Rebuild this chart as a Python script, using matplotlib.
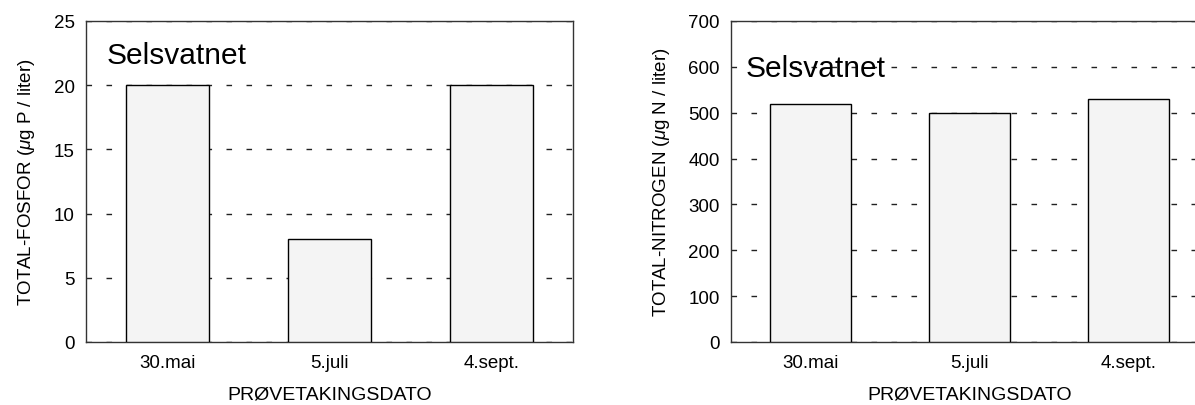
import numpy as np
import matplotlib.pyplot as plt

plt.rcParams['font.family'] = ['Liberation Sans', 'DejaVu Sans']
plt.rcParams['mathtext.fontset'] = 'custom'
plt.rcParams['mathtext.it'] = 'Liberation Sans:italic'

dates = ["30.mai", "5.juli", "4.sept."]
fosfor = [20, 8, 20]
nitrogen = [520, 500, 530]
site = "Selsvatnet"

fig = plt.figure(figsize=(11.95, 4.06), dpi=100)
ax1 = fig.add_axes([86 / 1195, 63 / 406, 487 / 1195, 321 / 406])
ax2 = fig.add_axes([731 / 1195, 63 / 406, 477 / 1195, 321 / 406])


def draw(ax, values, ymax, step, ylabel, tx, ty):
    x = np.arange(len(values))
    ax.bar(x, values, width=0.51, color='#f4f4f4', edgecolor='black',
           linewidth=1.0, zorder=3)
    ax.set_xlim(-0.5, 2.5)
    ax.set_ylim(0, ymax)
    ax.set_yticks(np.arange(0, ymax + 1, step))
    ax.set_xticks(x)
    ax.set_xticklabels(dates)
    ax.tick_params(length=0, labelsize=13.5, pad=9)
    ax.tick_params(axis='y', pad=8)
    ax.yaxis.grid(True, linestyle=(0, (4, 10.4)), color='#222222',
                  linewidth=1.0, zorder=0)
    ax.set_axisbelow(True)
    for s in ax.spines.values():
        s.set_linewidth(1.0)
        s.set_color('#333333')
    ax.set_ylabel(ylabel, fontsize=13.5, labelpad=12)
    ax.set_xlabel("PRØVETAKINGSDATO", fontsize=14, labelpad=10)
    ax.text(tx, ty, site, transform=ax.transAxes, fontsize=21.5,
            ha='left', va='center')


draw(ax1, fosfor, 25, 5, r"TOTAL-FOSFOR ($\mu$g P / liter)", 0.043, 0.895)
draw(ax2, nitrogen, 700, 100, r"TOTAL-NITROGEN ($\mu$g N / liter)", 0.03, 0.855)

fig.savefig("out.png", dpi=100)
